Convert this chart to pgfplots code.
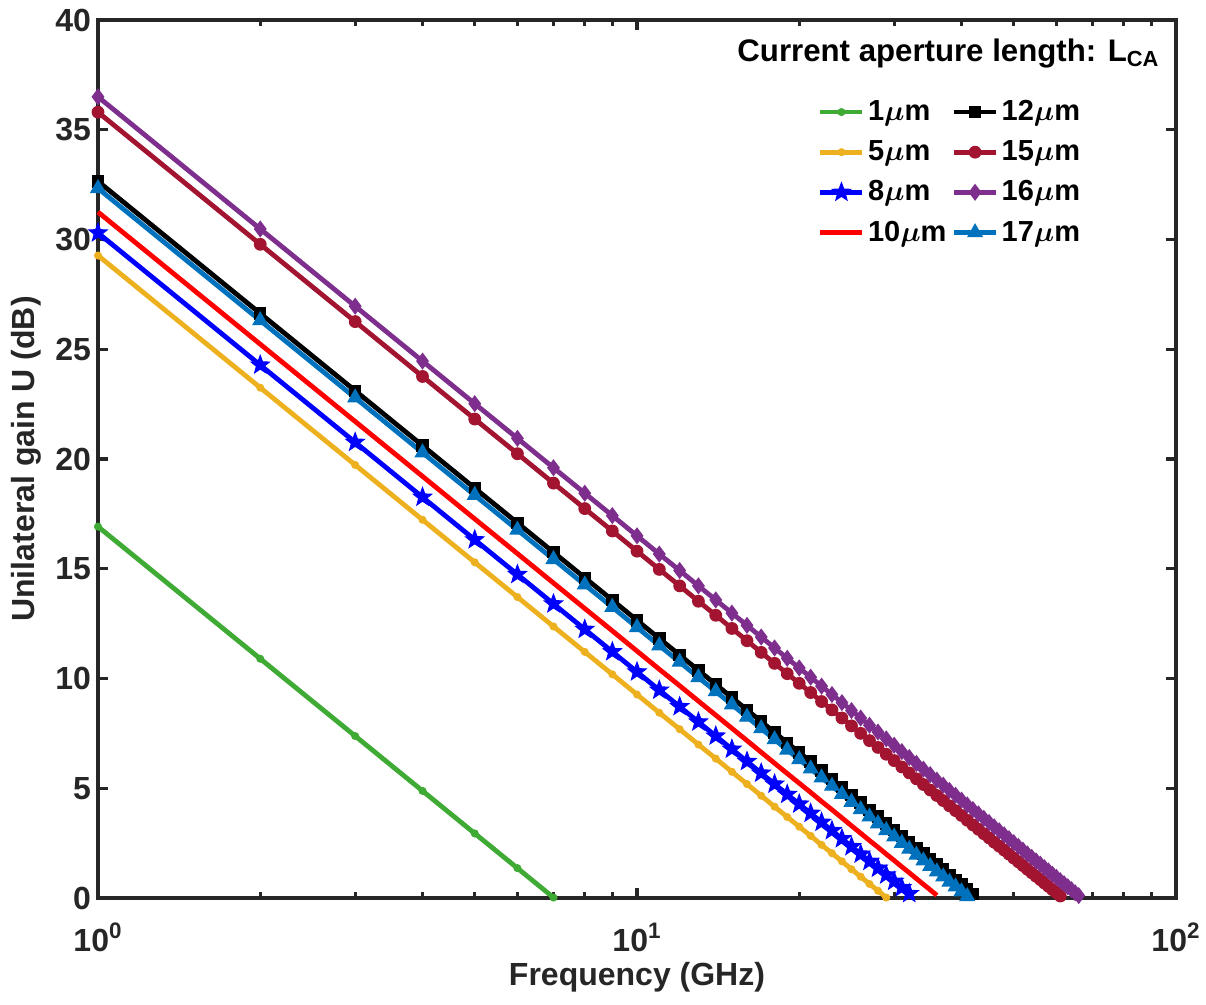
\documentclass[border=0pt]{standalone}
\usepackage{fontspec}
\setmainfont{Liberation Sans}
\usepackage{pgfplots}
\pgfplotsset{compat=1.18}
\usepackage{pgfplotstable}

\definecolor{axgray}{HTML}{262626}
\definecolor{cgreen}{HTML}{3FAA34}
\definecolor{cyellow}{HTML}{EDB120}
\definecolor{cblue}{HTML}{0000FF}
\definecolor{cred}{HTML}{FF0000}
\definecolor{cwine}{HTML}{A2142F}
\definecolor{cpurple}{HTML}{7E2F8E}
\definecolor{cmblue}{HTML}{0072BD}

% filled five-pointed star
\pgfdeclareplotmark{pentagram}{%
  \pgfpathmoveto{\pgfpointpolar{90}{\pgfplotmarksize}}%
  \pgfpathlineto{\pgfpointpolar{126}{0.42\pgfplotmarksize}}%
  \pgfpathlineto{\pgfpointpolar{162}{\pgfplotmarksize}}%
  \pgfpathlineto{\pgfpointpolar{198}{0.42\pgfplotmarksize}}%
  \pgfpathlineto{\pgfpointpolar{234}{\pgfplotmarksize}}%
  \pgfpathlineto{\pgfpointpolar{270}{0.42\pgfplotmarksize}}%
  \pgfpathlineto{\pgfpointpolar{306}{\pgfplotmarksize}}%
  \pgfpathlineto{\pgfpointpolar{342}{0.42\pgfplotmarksize}}%
  \pgfpathlineto{\pgfpointpolar{18}{\pgfplotmarksize}}%
  \pgfpathlineto{\pgfpointpolar{54}{0.42\pgfplotmarksize}}%
  \pgfpathclose\pgfusepathqfillstroke}

% U (dB) at f = 1..66 GHz, one column per aperture length
\pgfplotstableread{
f  a     b     c     d     e     g     h     k
1  16.92 29.27 30.30 31.25 32.65 35.80 36.50 32.33
2  10.90 23.25 24.28 25.23 26.63 29.78 30.48 26.31
3  7.38  19.73 20.76 21.71 23.11 26.26 26.96 22.79
4  4.88  17.23 18.26 19.21 20.61 23.76 24.46 20.29
5  2.94  15.29 16.32 17.27 18.67 21.82 22.52 18.35
6  1.36  13.71 14.74 15.69 17.09 20.24 20.94 16.77
7  0.02  12.37 13.40 14.35 15.75 18.90 19.60 15.43
8  nan   11.21 12.24 13.19 14.59 17.74 18.44 14.27
9  nan   10.19 11.22 12.17 13.57 16.72 17.42 13.25
10 nan   9.27  10.30 11.25 12.65 15.80 16.50 12.33
11 nan   8.44  9.47  10.42 11.82 14.97 15.67 11.50
12 nan   7.69  8.72  9.67  11.07 14.22 14.92 10.75
13 nan   6.99  8.02  8.97  10.37 13.52 14.22 10.05
14 nan   6.35  7.38  8.33  9.73  12.88 13.58 9.41
15 nan   5.75  6.78  7.73  9.13  12.28 12.98 8.81
16 nan   5.19  6.22  7.17  8.57  11.72 12.42 8.25
17 nan   4.66  5.69  6.64  8.04  11.19 11.89 7.72
18 nan   4.16  5.19  6.14  7.54  10.69 11.39 7.22
19 nan   3.69  4.72  5.67  7.07  10.22 10.92 6.75
20 nan   3.25  4.28  5.23  6.63  9.78  10.48 6.31
21 nan   2.83  3.86  4.81  6.21  9.36  10.06 5.89
22 nan   2.42  3.45  4.40  5.80  8.95  9.65  5.48
23 nan   2.04  3.07  4.02  5.42  8.57  9.27  5.10
24 nan   1.67  2.70  3.65  5.05  8.20  8.90  4.73
25 nan   1.31  2.34  3.29  4.69  7.84  8.54  4.37
26 nan   0.97  2.00  2.95  4.35  7.50  8.20  4.03
27 nan   0.64  1.67  2.62  4.02  7.17  7.87  3.70
28 nan   0.33  1.36  2.31  3.71  6.86  7.56  3.39
29 nan   0.02  1.05  2.00  3.40  6.55  7.25  3.08
30 nan   nan   0.76  1.71  3.11  6.26  6.96  2.79
31 nan   nan   0.47  1.42  2.82  5.97  6.67  2.50
32 nan   nan   0.20  1.15  2.55  5.70  6.40  2.23
33 nan   nan   nan   0.88  2.28  5.43  6.13  1.96
34 nan   nan   nan   0.62  2.02  5.17  5.87  1.70
35 nan   nan   nan   0.37  1.77  4.92  5.62  1.45
36 nan   nan   nan   0.12  1.52  4.67  5.37  1.20
37 nan   nan   nan   nan   1.29  4.44  5.14  0.97
38 nan   nan   nan   nan   1.05  4.20  4.90  0.73
39 nan   nan   nan   nan   0.83  3.98  4.68  0.51
40 nan   nan   nan   nan   0.61  3.76  4.46  0.29
41 nan   nan   nan   nan   0.39  3.54  4.24  0.07
42 nan   nan   nan   nan   0.18  3.33  4.03  nan
43 nan   nan   nan   nan   nan   3.13  3.83  nan
44 nan   nan   nan   nan   nan   2.93  3.63  nan
45 nan   nan   nan   nan   nan   2.74  3.44  nan
46 nan   nan   nan   nan   nan   2.54  3.24  nan
47 nan   nan   nan   nan   nan   2.36  3.06  nan
48 nan   nan   nan   nan   nan   2.18  2.88  nan
49 nan   nan   nan   nan   nan   2.00  2.70  nan
50 nan   nan   nan   nan   nan   1.82  2.52  nan
51 nan   nan   nan   nan   nan   1.65  2.35  nan
52 nan   nan   nan   nan   nan   1.48  2.18  nan
53 nan   nan   nan   nan   nan   1.31  2.01  nan
54 nan   nan   nan   nan   nan   1.15  1.85  nan
55 nan   nan   nan   nan   nan   0.99  1.69  nan
56 nan   nan   nan   nan   nan   0.84  1.54  nan
57 nan   nan   nan   nan   nan   0.68  1.38  nan
58 nan   nan   nan   nan   nan   0.53  1.23  nan
59 nan   nan   nan   nan   nan   0.38  1.08  nan
60 nan   nan   nan   nan   nan   0.24  0.94  nan
61 nan   nan   nan   nan   nan   0.09  0.79  nan
62 nan   nan   nan   nan   nan   nan   0.65  nan
63 nan   nan   nan   nan   nan   nan   0.51  nan
64 nan   nan   nan   nan   nan   nan   0.38  nan
65 nan   nan   nan   nan   nan   nan   0.24  nan
66 nan   nan   nan   nan   nan   nan   0.11  nan
}\gaindata

\pgfplotsset{
  sA/.style={cgreen, line width=2.4pt, mark=*, mark size=1.7pt, mark options={line width=0.6pt}},
  sB/.style={cyellow, line width=2.4pt, mark=*, mark size=1.7pt, mark options={line width=0.6pt}},
  sC/.style={cblue, line width=2.4pt, mark=pentagram, mark size=4.8pt, mark options={line width=0.5pt}},
  sD/.style={cred, line width=2.4pt, no marks},
  sE/.style={black, line width=2.4pt, mark=square*, mark size=2.7pt, mark options={line width=0.8pt}},
  sG/.style={cwine, line width=2.4pt, mark=*, mark size=2.9pt, mark options={line width=0.6pt}},
  sH/.style={cpurple, line width=2.4pt, mark=diamond*, mark size=3.8pt, mark options={line width=0.6pt}},
  sK/.style={cmblue, line width=2.4pt, mark=triangle*, mark size=4.1pt, mark options={line width=0.6pt}},
}

\newcommand{\um}{{\boldmath$\mu$}m}

\begin{document}
\begin{tikzpicture}
\useasboundingbox (-49pt,-53.5pt) rectangle (554pt,449pt);
\begin{axis}[
  at={(0,0)}, anchor=south west,
  scale only axis,
  width=539pt, height=439pt,
  xmode=log,
  xmin=1, xmax=100,
  ymin=0, ymax=40,
  xtick={1,10,100},
  xticklabels={10\textsuperscript{0},10\textsuperscript{1},10\textsuperscript{2}},
  ytick={0,5,...,40},
  xtick pos=both, ytick pos=both,
  tick align=inside,
  major tick length=5pt,
  minor tick length=3pt,
  every tick/.style={axgray, line width=1.6pt},
  axis line style={axgray, line width=2pt},
  ticklabel style={font=\fontsize{16}{18}\selectfont\bfseries, text=axgray},
  xticklabel style={yshift=-9pt},
  /pgf/number format/assume math mode=true,
  label style={font=\fontsize{16}{18}\selectfont\bfseries, text=axgray},
  xlabel={Frequency (GHz)},
  xlabel style={at={(rel axis cs:0.5,0)}, anchor=base, yshift=-44pt},
  ylabel={Unilateral gain U (dB)},
  clip=false,
  legend columns=2,
  legend cell align=left,
  legend image code/.code={\draw[mark repeat=2,mark phase=2,#1] plot coordinates {(0pt,0pt) (10.5pt,0pt) (21pt,0pt)};},
  legend style={draw=none, fill=none, at={(rel axis cs:0.662,0.917)}, anchor=north west,
    font=\fontsize{14.5}{16}\selectfont\bfseries, row sep=5.3pt,
    nodes={inner sep=1.6pt},
    /tikz/every even column/.append style={column sep=1pt}},
]
\addplot[sA, forget plot] table[x=f, y=a] {\gaindata};
\addplot[sB, forget plot] table[x=f, y=b] {\gaindata};
\addplot[sC, forget plot] table[x=f, y=c] {\gaindata};
\addplot[sD, forget plot] table[x=f, y=d] {\gaindata};
\addplot[sE, forget plot] table[x=f, y=e] {\gaindata};
\addplot[sG, forget plot] table[x=f, y=g] {\gaindata};
\addplot[sH, forget plot] table[x=f, y=h] {\gaindata};
\addplot[sK, forget plot] table[x=f, y=k] {\gaindata};

% legend filled column by column: 1,5,8,10 | 12,15,16,17
\addlegendimage{sA}\addlegendentry{1\um}
\addlegendimage{sE}\addlegendentry{12\um}
\addlegendimage{sB}\addlegendentry{5\um}
\addlegendimage{sG}\addlegendentry{15\um}
\addlegendimage{sC}\addlegendentry{8\um}
\addlegendimage{sH}\addlegendentry{16\um}
\addlegendimage{sD}\addlegendentry{10\um}
\addlegendimage{sK}\addlegendentry{17\um}

\node[anchor=base east, font=\fontsize{15.6}{17}\selectfont\bfseries, inner sep=0pt]
  at (rel axis cs:0.985,0.953) {Current aperture length: L\textsubscript{CA}};
\end{axis}
\end{tikzpicture}
\end{document}
